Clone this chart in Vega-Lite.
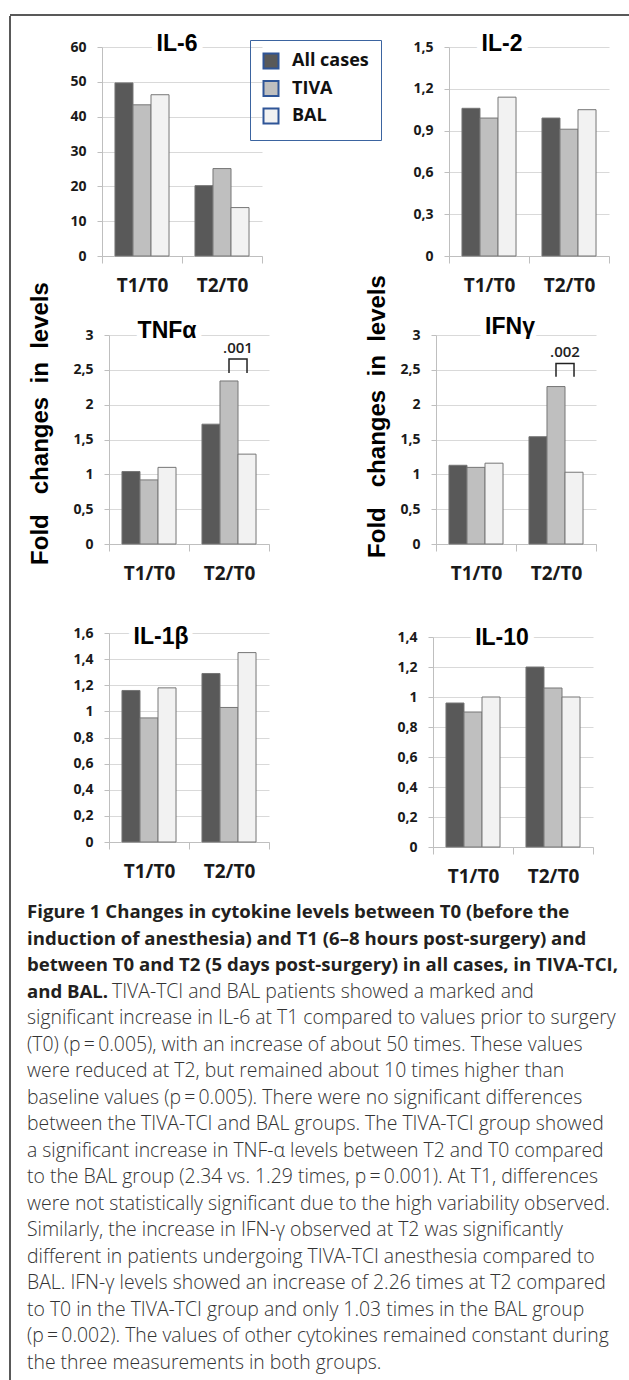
{
  "$schema": "https://vega.github.io/schema/vega-lite/v6.json",
  "padding": {"left": 9, "top": 14, "right": 0, "bottom": 0},
  "background": "white",
  "config": {
    "view": {"stroke": null},
    "axis": {"domainColor": "#bfbfbf", "tickColor": "#bfbfbf", "gridColor": "#d9d9d9", "labelFont": "Open Sans", "labelFontWeight": "bold", "labelColor": "#1a1a1a", "domainWidth": 1, "tickWidth": 1, "gridWidth": 1, "labelOverlap": false},
    "axisX": {"grid": false, "tickSize": 7, "labelFontSize": 19, "labelPadding": 13, "labelAngle": 0, "tickBand": "extent"},
    "axisY": {"grid": true, "tickSize": 5, "labelFontSize": 14, "labelPadding": 11, "labelOverlap": false, "tickCount": 30},
    "text": {"font": "Open Sans"}
  },
  "datasets": {
    "cyto": [
      {"cytokine": "IL-6", "time": "T1/T0", "group": "All cases", "value": 49.7},
      {"cytokine": "IL-6", "time": "T1/T0", "group": "TIVA", "value": 43.4},
      {"cytokine": "IL-6", "time": "T1/T0", "group": "BAL", "value": 46.3},
      {"cytokine": "IL-6", "time": "T2/T0", "group": "All cases", "value": 20.2},
      {"cytokine": "IL-6", "time": "T2/T0", "group": "TIVA", "value": 25.1},
      {"cytokine": "IL-6", "time": "T2/T0", "group": "BAL", "value": 13.9},
      {"cytokine": "IL-2", "time": "T1/T0", "group": "All cases", "value": 1.06},
      {"cytokine": "IL-2", "time": "T1/T0", "group": "TIVA", "value": 0.99},
      {"cytokine": "IL-2", "time": "T1/T0", "group": "BAL", "value": 1.14},
      {"cytokine": "IL-2", "time": "T2/T0", "group": "All cases", "value": 0.99},
      {"cytokine": "IL-2", "time": "T2/T0", "group": "TIVA", "value": 0.91},
      {"cytokine": "IL-2", "time": "T2/T0", "group": "BAL", "value": 1.05},
      {"cytokine": "TNF", "time": "T1/T0", "group": "All cases", "value": 1.04},
      {"cytokine": "TNF", "time": "T1/T0", "group": "TIVA", "value": 0.92},
      {"cytokine": "TNF", "time": "T1/T0", "group": "BAL", "value": 1.10},
      {"cytokine": "TNF", "time": "T2/T0", "group": "All cases", "value": 1.72},
      {"cytokine": "TNF", "time": "T2/T0", "group": "TIVA", "value": 2.34},
      {"cytokine": "TNF", "time": "T2/T0", "group": "BAL", "value": 1.29},
      {"cytokine": "IFN", "time": "T1/T0", "group": "All cases", "value": 1.13},
      {"cytokine": "IFN", "time": "T1/T0", "group": "TIVA", "value": 1.10},
      {"cytokine": "IFN", "time": "T1/T0", "group": "BAL", "value": 1.16},
      {"cytokine": "IFN", "time": "T2/T0", "group": "All cases", "value": 1.54},
      {"cytokine": "IFN", "time": "T2/T0", "group": "TIVA", "value": 2.26},
      {"cytokine": "IFN", "time": "T2/T0", "group": "BAL", "value": 1.03},
      {"cytokine": "IL-1b", "time": "T1/T0", "group": "All cases", "value": 1.16},
      {"cytokine": "IL-1b", "time": "T1/T0", "group": "TIVA", "value": 0.95},
      {"cytokine": "IL-1b", "time": "T1/T0", "group": "BAL", "value": 1.18},
      {"cytokine": "IL-1b", "time": "T2/T0", "group": "All cases", "value": 1.29},
      {"cytokine": "IL-1b", "time": "T2/T0", "group": "TIVA", "value": 1.03},
      {"cytokine": "IL-1b", "time": "T2/T0", "group": "BAL", "value": 1.45},
      {"cytokine": "IL-10", "time": "T1/T0", "group": "All cases", "value": 0.96},
      {"cytokine": "IL-10", "time": "T1/T0", "group": "TIVA", "value": 0.90},
      {"cytokine": "IL-10", "time": "T1/T0", "group": "BAL", "value": 1.00},
      {"cytokine": "IL-10", "time": "T2/T0", "group": "All cases", "value": 1.20},
      {"cytokine": "IL-10", "time": "T2/T0", "group": "TIVA", "value": 1.06},
      {"cytokine": "IL-10", "time": "T2/T0", "group": "BAL", "value": 1.00}
    ],
    "boldLines": [
      {"line": 1, "text": "Figure 1 Changes in cytokine levels between T0 (before the"},
      {"line": 2, "text": "induction of anesthesia) and T1 (6–8 hours post-surgery) and"},
      {"line": 3, "text": "between T0 and T2 (5 days post-surgery) in all cases, in TIVA-TCI,"},
      {"line": 4, "text": "and BAL."}
    ],
    "line4": [
      {"line": 4, "text": "TIVA-TCI and BAL patients showed a marked and"}
    ],
    "regularLines": [
      {"line": 5, "text": "significant increase in IL-6 at T1 compared to values prior to surgery"},
      {"line": 6, "text": "(T0) (p\u2009=\u20090.005), with an increase of about 50 times. These values"},
      {"line": 7, "text": "were reduced at T2, but remained about 10 times higher than"},
      {"line": 8, "text": "baseline values (p\u2009=\u20090.005). There were no significant differences"},
      {"line": 9, "text": "between the TIVA-TCI and BAL groups. The TIVA-TCI group showed"},
      {"line": 10, "text": "a significant increase in TNF-α levels between T2 and T0 compared"},
      {"line": 11, "text": "to the BAL group (2.34 vs. 1.29 times, p\u2009=\u20090.001). At T1, differences"},
      {"line": 12, "text": "were not statistically significant due to the high variability observed."},
      {"line": 13, "text": "Similarly, the increase in IFN-γ observed at T2 was significantly"},
      {"line": 14, "text": "different in patients undergoing TIVA-TCI anesthesia compared to"},
      {"line": 15, "text": "BAL. IFN-γ levels showed an increase of 2.26 times at T2 compared"},
      {"line": 16, "text": "to T0 in the TIVA-TCI group and only 1.03 times in the BAL group"},
      {"line": 17, "text": "(p\u2009=\u20090.002). The values of other cytokines remained constant during"},
      {"line": 18, "text": "the three measurements in both groups."}
    ]
  },
  "bounds": "flush",
  "spacing": 0,
  "vconcat": [
    {
      "width": 620, "height": 1,
      "data": {"values": [{}]},
      "mark": {"type": "rule", "color": "#222222", "strokeWidth": 1.5},
      "encoding": {"y": {"datum": 1, "type": "quantitative", "scale": {"domain": [0, 1]}, "axis": null}}
    },
    {
      "bounds": "flush",
      "spacing": 0,
      "hconcat": [
        {
          "width": 1, "height": 1365,
          "data": {"values": [{}]},
          "mark": {"type": "rule", "color": "#222222", "strokeWidth": 1.5},
          "encoding": {"x": {"datum": 0, "type": "quantitative", "scale": {"domain": [0, 1]}, "axis": null}}
        },
        {
          "bounds": "flush",
          "spacing": 0,
          "vconcat": [
            {"width": 1, "height": 31, "data": {"values": []}, "mark": "text", "encoding": {}},
            {
              "bounds": "flush", "spacing": 0,
              "hconcat": [
                {"width": 91, "height": 1, "data": {"values": []}, "mark": "text", "encoding": {}},
                {
                  "width": 160, "height": 209,
                  "layer": [
                    {
                      "data": {"name": "cyto"},
                      "transform": [{"filter": "datum.cytokine === 'IL-6'"}],
                      "mark": {"type": "bar", "stroke": "#767676", "strokeWidth": 1},
                      "encoding": {
                        "x": {"field": "time", "type": "nominal", "scale": {"domain": ["T1/T0", "T2/T0"], "paddingInner": 0, "paddingOuter": 0}, "title": null},
                        "xOffset": {"field": "group", "type": "nominal", "scale": {"domain": ["All cases", "TIVA", "BAL"], "paddingInner": 0, "paddingOuter": 0.72}},
                        "y": {"field": "value", "type": "quantitative", "scale": {"domain": [0, 60], "nice": false}, "axis": {"values": [0, 10, 20, 30, 40, 50, 60], "tickCount": 30, "labelOverlap": false}, "title": null},
                        "color": {"field": "group", "type": "nominal", "scale": {"domain": ["All cases", "TIVA", "BAL"], "range": ["#595959", "#bfbfbf", "#f2f2f2"]},
                          "legend": {"orient": "none", "legendX": 240, "legendY": 25, "title": null, "symbolType": "square", "symbolSize": 225, "symbolStrokeColor": "#2f5597", "symbolStrokeWidth": 2, "strokeColor": "#3b64a0", "padding": 12, "rowPadding": 3.5, "labelFont": "Open Sans", "labelFontWeight": "bold", "labelFontSize": 18, "labelColor": "#111111", "labelOffset": 12}}
                      }
                    },
                    {
                      "data": {"values": [{"t": "IL-6"}]},
                      "mark": {"type": "text", "font": "Liberation Sans", "fontWeight": "bold", "fontSize": 23, "baseline": "middle", "color": "white", "stroke": "white", "strokeWidth": 12, "dx": -5, "dy": -3},
                      "encoding": {"x": {"datum": "T2/T0", "bandPosition": 0}, "y": {"datum": 60}, "text": {"field": "t"}}
                    },
                    {
                      "data": {"values": [{"t": "IL-6"}]},
                      "mark": {"type": "text", "font": "Liberation Sans", "fontWeight": "bold", "fontSize": 23, "baseline": "middle", "color": "black", "dx": -5, "dy": -3},
                      "encoding": {"x": {"datum": "T2/T0", "bandPosition": 0}, "y": {"datum": 60}, "text": {"field": "t"}}
                    }
                  ]
                },
                {"width": 187, "height": 1, "data": {"values": []}, "mark": "text", "encoding": {}},
                {
                  "width": 160, "height": 209,
                  "layer": [
                    {
                      "data": {"name": "cyto"},
                      "transform": [{"filter": "datum.cytokine === 'IL-2'"}],
                      "mark": {"type": "bar", "stroke": "#767676", "strokeWidth": 1},
                      "encoding": {
                        "x": {"field": "time", "type": "nominal", "scale": {"domain": ["T1/T0", "T2/T0"], "paddingInner": 0, "paddingOuter": 0}, "title": null},
                        "xOffset": {"field": "group", "type": "nominal", "scale": {"domain": ["All cases", "TIVA", "BAL"], "paddingInner": 0, "paddingOuter": 0.72}},
                        "y": {"field": "value", "type": "quantitative", "scale": {"domain": [0, 1.5], "nice": false}, "axis": {"values": [0, 0.3, 0.6, 0.9, 1.2, 1.5], "tickCount": 30, "labelOverlap": false, "labelExpr": "replace(toString(datum.value), '.', ',')"}, "title": null},
                        "color": {"field": "group", "type": "nominal", "scale": {"domain": ["All cases", "TIVA", "BAL"], "range": ["#595959", "#bfbfbf", "#f2f2f2"]},
                          "legend": {"orient": "none", "legendX": 240, "legendY": 25, "title": null, "symbolType": "square", "symbolSize": 225, "symbolStrokeColor": "#2f5597", "symbolStrokeWidth": 2, "strokeColor": "#3b64a0", "padding": 12, "rowPadding": 3.5, "labelFont": "Open Sans", "labelFontWeight": "bold", "labelFontSize": 18, "labelColor": "#111111", "labelOffset": 12}}
                      }
                    },
                    {
                      "data": {"values": [{"t": "IL-2"}]},
                      "mark": {"type": "text", "font": "Liberation Sans", "fontWeight": "bold", "fontSize": 23, "baseline": "middle", "color": "white", "stroke": "white", "strokeWidth": 12, "dx": -27, "dy": -3},
                      "encoding": {"x": {"datum": "T2/T0", "bandPosition": 0}, "y": {"datum": 1.5}, "text": {"field": "t"}}
                    },
                    {
                      "data": {"values": [{"t": "IL-2"}]},
                      "mark": {"type": "text", "font": "Liberation Sans", "fontWeight": "bold", "fontSize": 23, "baseline": "middle", "color": "black", "dx": -27, "dy": -3},
                      "encoding": {"x": {"datum": "T2/T0", "bandPosition": 0}, "y": {"datum": 1.5}, "text": {"field": "t"}}
                    }
                  ]
                }
              ]
            },
            {"width": 1, "height": 288, "data": {"values": []}, "mark": "text", "encoding": {}},
            {
              "bounds": "flush", "spacing": 0,
              "hconcat": [
                {"width": 98, "height": 1, "data": {"values": []}, "mark": "text", "encoding": {}},
                {
                  "width": 160, "height": 209,
                  "layer": [
                    {
                      "data": {"name": "cyto"},
                      "transform": [{"filter": "datum.cytokine === 'TNF'"}],
                      "mark": {"type": "bar", "stroke": "#767676", "strokeWidth": 1},
                      "encoding": {
                        "x": {"field": "time", "type": "nominal", "scale": {"domain": ["T1/T0", "T2/T0"], "paddingInner": 0, "paddingOuter": 0}, "title": null},
                        "xOffset": {"field": "group", "type": "nominal", "scale": {"domain": ["All cases", "TIVA", "BAL"], "paddingInner": 0, "paddingOuter": 0.72}},
                        "y": {"field": "value", "type": "quantitative", "scale": {"domain": [0, 3], "nice": false}, "axis": {"values": [0, 0.5, 1, 1.5, 2, 2.5, 3], "tickCount": 30, "labelOverlap": false, "labelExpr": "replace(toString(datum.value), '.', ',')", "titleFont": "Liberation Sans", "titleFontSize": 24, "titleFontWeight": "bold", "titleColor": "black", "titlePadding": 20, "titleY": 88}, "title": "Fold\u00a0\u00a0\u00a0changes\u00a0\u00a0in\u00a0\u00a0levels"},
                        "color": {"field": "group", "type": "nominal", "scale": {"domain": ["All cases", "TIVA", "BAL"], "range": ["#595959", "#bfbfbf", "#f2f2f2"]},
                          "legend": {"orient": "none", "legendX": 240, "legendY": 25, "title": null, "symbolType": "square", "symbolSize": 225, "symbolStrokeColor": "#2f5597", "symbolStrokeWidth": 2, "strokeColor": "#3b64a0", "padding": 12, "rowPadding": 3.5, "labelFont": "Open Sans", "labelFontWeight": "bold", "labelFontSize": 18, "labelColor": "#111111", "labelOffset": 12}}
                      }
                    },
                    {
                      "data": {"values": [{"time": "T2/T0", "group": "TIVA", "value": 2.455, "o": 1}, {"time": "T2/T0", "group": "TIVA", "value": 2.655, "o": 2}, {"time": "T2/T0", "group": "BAL", "value": 2.655, "o": 3}, {"time": "T2/T0", "group": "BAL", "value": 2.455, "o": 4}]},
                      "mark": {"type": "line", "color": "#222222", "strokeWidth": 1.5},
                      "encoding": {"x": {"field": "time", "type": "nominal"}, "xOffset": {"field": "group", "type": "nominal"}, "y": {"field": "value", "type": "quantitative", "title": "Fold\u00a0\u00a0\u00a0changes\u00a0\u00a0in\u00a0\u00a0levels"}, "order": {"field": "o", "type": "quantitative"}}
                    },
                    {
                      "data": {"values": [{"time": "T2/T0", "group": "TIVA", "value": 2.82, "label": ".001"}]},
                      "mark": {"type": "text", "font": "Open Sans", "fontSize": 15, "fontWeight": 600, "baseline": "middle", "color": "#222222", "dx": 9},
                      "encoding": {"x": {"field": "time", "type": "nominal"}, "xOffset": {"field": "group", "type": "nominal"}, "y": {"field": "value", "type": "quantitative", "title": "Fold\u00a0\u00a0\u00a0changes\u00a0\u00a0in\u00a0\u00a0levels"}, "text": {"field": "label"}}
                    },
                    {
                      "data": {"values": [{"t": "TNFα"}]},
                      "mark": {"type": "text", "font": "Liberation Sans", "fontWeight": "bold", "fontSize": 23, "baseline": "middle", "color": "white", "stroke": "white", "strokeWidth": 12, "dx": -22, "dy": -4},
                      "encoding": {"x": {"datum": "T2/T0", "bandPosition": 0}, "y": {"datum": 3}, "text": {"field": "t"}}
                    },
                    {
                      "data": {"values": [{"t": "TNFα"}]},
                      "mark": {"type": "text", "font": "Liberation Sans", "fontWeight": "bold", "fontSize": 23, "baseline": "middle", "color": "black", "dx": -22, "dy": -4},
                      "encoding": {"x": {"datum": "T2/T0", "bandPosition": 0}, "y": {"datum": 3}, "text": {"field": "t"}}
                    }
                  ]
                },
                {"width": 167, "height": 1, "data": {"values": []}, "mark": "text", "encoding": {}},
                {
                  "width": 160, "height": 209,
                  "layer": [
                    {
                      "data": {"name": "cyto"},
                      "transform": [{"filter": "datum.cytokine === 'IFN'"}],
                      "mark": {"type": "bar", "stroke": "#767676", "strokeWidth": 1},
                      "encoding": {
                        "x": {"field": "time", "type": "nominal", "scale": {"domain": ["T1/T0", "T2/T0"], "paddingInner": 0, "paddingOuter": 0}, "title": null},
                        "xOffset": {"field": "group", "type": "nominal", "scale": {"domain": ["All cases", "TIVA", "BAL"], "paddingInner": 0, "paddingOuter": 0.72}},
                        "y": {"field": "value", "type": "quantitative", "scale": {"domain": [0, 3], "nice": false}, "axis": {"values": [0, 0.5, 1, 1.5, 2, 2.5, 3], "tickCount": 30, "labelOverlap": false, "labelExpr": "replace(toString(datum.value), '.', ',')", "titleFont": "Liberation Sans", "titleFontSize": 24, "titleFontWeight": "bold", "titleColor": "black", "titlePadding": 10, "titleY": 81}, "title": "Fold\u00a0\u00a0\u00a0changes\u00a0\u00a0in\u00a0\u00a0levels"},
                        "color": {"field": "group", "type": "nominal", "scale": {"domain": ["All cases", "TIVA", "BAL"], "range": ["#595959", "#bfbfbf", "#f2f2f2"]},
                          "legend": {"orient": "none", "legendX": 240, "legendY": 25, "title": null, "symbolType": "square", "symbolSize": 225, "symbolStrokeColor": "#2f5597", "symbolStrokeWidth": 2, "strokeColor": "#3b64a0", "padding": 12, "rowPadding": 3.5, "labelFont": "Open Sans", "labelFontWeight": "bold", "labelFontSize": 18, "labelColor": "#111111", "labelOffset": 12}}
                      }
                    },
                    {
                      "data": {"values": [{"time": "T2/T0", "group": "TIVA", "value": 2.40, "o": 1}, {"time": "T2/T0", "group": "TIVA", "value": 2.59, "o": 2}, {"time": "T2/T0", "group": "BAL", "value": 2.59, "o": 3}, {"time": "T2/T0", "group": "BAL", "value": 2.40, "o": 4}]},
                      "mark": {"type": "line", "color": "#222222", "strokeWidth": 1.5},
                      "encoding": {"x": {"field": "time", "type": "nominal"}, "xOffset": {"field": "group", "type": "nominal"}, "y": {"field": "value", "type": "quantitative", "title": "Fold\u00a0\u00a0\u00a0changes\u00a0\u00a0in\u00a0\u00a0levels"}, "order": {"field": "o", "type": "quantitative"}}
                    },
                    {
                      "data": {"values": [{"time": "T2/T0", "group": "TIVA", "value": 2.76, "label": ".002"}]},
                      "mark": {"type": "text", "font": "Open Sans", "fontSize": 15, "fontWeight": 600, "baseline": "middle", "color": "#222222", "dx": 9},
                      "encoding": {"x": {"field": "time", "type": "nominal"}, "xOffset": {"field": "group", "type": "nominal"}, "y": {"field": "value", "type": "quantitative", "title": "Fold\u00a0\u00a0\u00a0changes\u00a0\u00a0in\u00a0\u00a0levels"}, "text": {"field": "label"}}
                    },
                    {
                      "data": {"values": [{"t": "IFNγ"}]},
                      "mark": {"type": "text", "font": "Liberation Sans", "fontWeight": "bold", "fontSize": 23, "baseline": "middle", "color": "white", "stroke": "white", "strokeWidth": 12, "dx": -6, "dy": -8},
                      "encoding": {"x": {"datum": "T2/T0", "bandPosition": 0}, "y": {"datum": 3}, "text": {"field": "t"}}
                    },
                    {
                      "data": {"values": [{"t": "IFNγ"}]},
                      "mark": {"type": "text", "font": "Liberation Sans", "fontWeight": "bold", "fontSize": 23, "baseline": "middle", "color": "black", "dx": -6, "dy": -8},
                      "encoding": {"x": {"datum": "T2/T0", "bandPosition": 0}, "y": {"datum": 3}, "text": {"field": "t"}}
                    }
                  ]
                }
              ]
            },
            {"width": 1, "height": 298, "data": {"values": []}, "mark": "text", "encoding": {}},
            {
              "bounds": "flush", "spacing": 0,
              "hconcat": [
                {"width": 98, "height": 1, "data": {"values": []}, "mark": "text", "encoding": {}},
                {
                  "width": 160, "height": 209,
                  "layer": [
                    {
                      "data": {"name": "cyto"},
                      "transform": [{"filter": "datum.cytokine === 'IL-1b'"}],
                      "mark": {"type": "bar", "stroke": "#767676", "strokeWidth": 1},
                      "encoding": {
                        "x": {"field": "time", "type": "nominal", "scale": {"domain": ["T1/T0", "T2/T0"], "paddingInner": 0, "paddingOuter": 0}, "title": null},
                        "xOffset": {"field": "group", "type": "nominal", "scale": {"domain": ["All cases", "TIVA", "BAL"], "paddingInner": 0, "paddingOuter": 0.72}},
                        "y": {"field": "value", "type": "quantitative", "scale": {"domain": [0, 1.6], "nice": false}, "axis": {"values": [0, 0.2, 0.4, 0.6, 0.8, 1, 1.2, 1.4, 1.6], "tickCount": 30, "labelOverlap": false, "labelExpr": "replace(toString(datum.value), '.', ',')"}, "title": null},
                        "color": {"field": "group", "type": "nominal", "scale": {"domain": ["All cases", "TIVA", "BAL"], "range": ["#595959", "#bfbfbf", "#f2f2f2"]},
                          "legend": {"orient": "none", "legendX": 240, "legendY": 25, "title": null, "symbolType": "square", "symbolSize": 225, "symbolStrokeColor": "#2f5597", "symbolStrokeWidth": 2, "strokeColor": "#3b64a0", "padding": 12, "rowPadding": 3.5, "labelFont": "Open Sans", "labelFontWeight": "bold", "labelFontSize": 18, "labelColor": "#111111", "labelOffset": 12}}
                      }
                    },
                    {
                      "data": {"values": [{"t": "IL-1β"}]},
                      "mark": {"type": "text", "font": "Liberation Sans", "fontWeight": "bold", "fontSize": 23, "baseline": "middle", "color": "white", "stroke": "white", "strokeWidth": 12, "dx": -28, "dy": 4},
                      "encoding": {"x": {"datum": "T2/T0", "bandPosition": 0}, "y": {"datum": 1.6}, "text": {"field": "t"}}
                    },
                    {
                      "data": {"values": [{"t": "IL-1β"}]},
                      "mark": {"type": "text", "font": "Liberation Sans", "fontWeight": "bold", "fontSize": 23, "baseline": "middle", "color": "black", "dx": -28, "dy": 4},
                      "encoding": {"x": {"datum": "T2/T0", "bandPosition": 0}, "y": {"datum": 1.6}, "text": {"field": "t"}}
                    }
                  ]
                },
                {"width": 164, "height": 1, "data": {"values": []}, "mark": "text", "encoding": {}},
                {
                  "bounds": "flush", "spacing": 0,
                  "vconcat": [
                    {"width": 1, "height": 4, "data": {"values": []}, "mark": "text", "encoding": {}},
                    {
                      "width": 160, "height": 210,
                      "layer": [
                        {
                          "data": {"name": "cyto"},
                          "transform": [{"filter": "datum.cytokine === 'IL-10'"}],
                          "mark": {"type": "bar", "stroke": "#767676", "strokeWidth": 1},
                          "encoding": {
                            "x": {"field": "time", "type": "nominal", "scale": {"domain": ["T1/T0", "T2/T0"], "paddingInner": 0, "paddingOuter": 0}, "title": null},
                            "xOffset": {"field": "group", "type": "nominal", "scale": {"domain": ["All cases", "TIVA", "BAL"], "paddingInner": 0, "paddingOuter": 0.72}},
                            "y": {"field": "value", "type": "quantitative", "scale": {"domain": [0, 1.4], "nice": false}, "axis": {"values": [0, 0.2, 0.4, 0.6, 0.8, 1, 1.2, 1.4], "tickCount": 30, "labelOverlap": false, "labelExpr": "replace(toString(datum.value), '.', ',')"}, "title": null},
                            "color": {"field": "group", "type": "nominal", "scale": {"domain": ["All cases", "TIVA", "BAL"], "range": ["#595959", "#bfbfbf", "#f2f2f2"]},
                              "legend": {"orient": "none", "legendX": 240, "legendY": 25, "title": null, "symbolType": "square", "symbolSize": 225, "symbolStrokeColor": "#2f5597", "symbolStrokeWidth": 2, "strokeColor": "#3b64a0", "padding": 12, "rowPadding": 3.5, "labelFont": "Open Sans", "labelFontWeight": "bold", "labelFontSize": 18, "labelColor": "#111111", "labelOffset": 12}}
                          }
                        },
                        {
                          "data": {"values": [{"t": "IL-10"}]},
                          "mark": {"type": "text", "font": "Liberation Sans", "fontWeight": "bold", "fontSize": 23, "baseline": "middle", "color": "white", "stroke": "white", "strokeWidth": 12, "dx": -11, "dy": 1},
                          "encoding": {"x": {"datum": "T2/T0", "bandPosition": 0}, "y": {"datum": 1.4}, "text": {"field": "t"}}
                        },
                        {
                          "data": {"values": [{"t": "IL-10"}]},
                          "mark": {"type": "text", "font": "Liberation Sans", "fontWeight": "bold", "fontSize": 23, "baseline": "middle", "color": "black", "dx": -11, "dy": 1},
                          "encoding": {"x": {"datum": "T2/T0", "bandPosition": 0}, "y": {"datum": 1.4}, "text": {"field": "t"}}
                        }
                      ]
                    }
                  ]
                }
              ]
            },
            {"width": 1, "height": 285, "data": {"values": []}, "mark": "text", "encoding": {}},
            {
              "bounds": "flush", "spacing": 0,
              "hconcat": [
                {"width": 16, "height": 1, "data": {"values": []}, "mark": "text", "encoding": {}},
                {
                  "width": 600, "height": 451,
                  "layer": [
                    {
                      "data": {"name": "boldLines"},
                      "mark": {"type": "text", "align": "left", "baseline": "alphabetic", "font": "Open Sans", "fontWeight": "bold", "fontSize": 18.6, "color": "#231f20"},
                      "encoding": {
                        "x": {"datum": 0, "type": "quantitative", "scale": {"domain": [0, 1]}, "axis": null},
                        "y": {"field": "line", "type": "quantitative", "scale": {"domain": [1, 18], "reverse": true, "nice": false, "zero": false}, "axis": null},
                        "text": {"field": "text"}
                      }
                    },
                    {
                      "data": {"name": "line4"},
                      "mark": {"type": "text", "align": "left", "baseline": "alphabetic", "font": "Open Sans", "fontWeight": 300, "fontSize": 19.4, "color": "#333333", "dx": 85},
                      "encoding": {
                        "x": {"datum": 0, "type": "quantitative", "scale": {"domain": [0, 1]}, "axis": null},
                        "y": {"field": "line", "type": "quantitative", "scale": {"domain": [1, 18], "reverse": true, "nice": false, "zero": false}, "axis": null},
                        "text": {"field": "text"}
                      }
                    },
                    {
                      "data": {"name": "regularLines"},
                      "mark": {"type": "text", "align": "left", "baseline": "alphabetic", "font": "Open Sans", "fontWeight": 300, "fontSize": 19.4, "color": "#333333"},
                      "encoding": {
                        "x": {"datum": 0, "type": "quantitative", "scale": {"domain": [0, 1]}, "axis": null},
                        "y": {"field": "line", "type": "quantitative", "scale": {"domain": [1, 18], "reverse": true, "nice": false, "zero": false}, "axis": null},
                        "text": {"field": "text"}
                      }
                    }
                  ]
                }
              ]
            }
          ]
        }
      ]
    }
  ]
}
